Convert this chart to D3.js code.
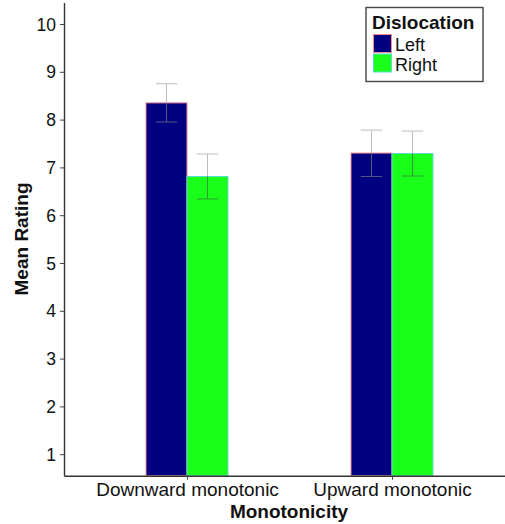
<!DOCTYPE html>
<html><head><meta charset="utf-8">
<script src="https://cdn.jsdelivr.net/npm/d3@7"></script>
<style>body{margin:0;background:#fff}svg{display:block}text{font-family:"Liberation Sans",Arial,sans-serif}</style>
</head><body><svg id="c" width="505" height="524"></svg>
<script>
const categories = ["Downward monotonic", "Upward monotonic"];
const series = ["Left", "Right"];
const means = { Left: [8.35, 7.30], Right: [6.81, 7.29] };
const errLow = { Left: [7.95, 6.81], Right: [6.34, 6.82] };
const errHigh = { Left: [8.75, 7.78], Right: [7.28, 7.76] };
const yTicks = [1, 2, 3, 4, 5, 6, 7, 8, 9, 10];
const fills = { Left: "#000080", Right: "#1aff1a" };
const strokes = { Left: "#f08a90", Right: "#5fdcd0" };

const svg = d3.select("#c");
const L = 64, B = 475.7, T = 2.5;
const unit = 205;
const x = d3.scaleLinear().domain([0.4, 2.6]).range([L, L + 2.2 * unit]);
const y = d3.scaleLinear().domain([0.55, 10.45]).range([B, T]);
const barW = 0.2;

const rows = [];
categories.forEach((c, i) => series.forEach((s, j) => rows.push({
  c, s, i, j, v: means[s][i], lo: errLow[s][i], hi: errHigh[s][i]
})));
function i2x(d){ return d.i + 1 - barW + d.j * barW; }

// bars
svg.selectAll("rect.bar").data(rows).join("rect")
  .attr("class", "bar")
  .attr("x", d => x(i2x(d))).attr("width", x(barW) - x(0))
  .attr("y", d => y(d.v)).attr("height", d => y(0.55) - y(d.v))
  .attr("fill", d => fills[d.s]).attr("stroke", d => strokes[d.s]).attr("stroke-width", 1);

// error bars
const eb = svg.selectAll("g.eb").data(rows).join("g").attr("class", "eb");
const cx = d => x(d.i + 1 - barW / 2 + d.j * barW);
const hw = (x(barW) - x(0)) / 2;
const inner = d => d.s === "Left" ? "#555580" : "#339933";
eb.append("line").attr("x1", cx).attr("x2", cx).attr("y1", d => y(d.hi)).attr("y2", d => y(d.v))
  .attr("stroke", "#bdbdbd").attr("stroke-width", 1);
eb.append("line").attr("x1", cx).attr("x2", cx).attr("y1", d => y(d.v)).attr("y2", d => y(d.lo))
  .attr("stroke", inner).attr("stroke-width", 1);
eb.append("line").attr("x1", d => cx(d) - hw / 2 - 0.5).attr("x2", d => cx(d) + hw / 2 + 0.5)
  .attr("y1", d => y(d.hi)).attr("y2", d => y(d.hi)).attr("stroke", "#bdbdbd");
eb.append("line").attr("x1", d => cx(d) - hw / 2 - 0.5).attr("x2", d => cx(d) + hw / 2 + 0.5)
  .attr("y1", d => y(d.lo)).attr("y2", d => y(d.lo))
  .attr("stroke", d => d.lo < d.v ? inner(d) : "#bdbdbd");

// y axis
const yAx = svg.append("g").attr("transform", `translate(${L},0)`)
  .call(d3.axisLeft(y).tickValues(yTicks).tickSize(4).tickPadding(4).tickSizeOuter(0));
yAx.select(".domain").attr("stroke", "#333").attr("stroke-width", 1.4);
yAx.selectAll(".tick line").attr("stroke", "#444");
yAx.selectAll("text").attr("font-size", 17.5).attr("fill", "#111").attr("dy", "0.35em");

// x axis
const xAx = svg.append("g").attr("transform", `translate(0,${B})`)
  .call(d3.axisBottom(x).tickValues([1, 2]).tickFormat(d => categories[d - 1]).tickSize(4).tickPadding(3).tickSizeOuter(0));
xAx.select(".domain").attr("stroke", "#333").attr("stroke-width", 1.4);
xAx.selectAll(".tick line").attr("stroke", "#444");
xAx.selectAll("text").attr("font-size", 19).attr("fill", "#111");

// titles
svg.append("text").attr("x", 289).attr("y", 518).attr("text-anchor", "middle")
  .attr("font-size", 19).attr("font-weight", "bold").attr("fill", "#111").text("Monotonicity");
svg.append("text").attr("transform", "translate(28,239) rotate(-90)").attr("text-anchor", "middle")
  .attr("font-size", 19).attr("font-weight", "bold").attr("fill", "#111").text("Mean Rating");

// legend
const lg = svg.append("g");
lg.append("rect").attr("x", 366).attr("y", 7.5).attr("width", 117).attr("height", 74)
  .attr("fill", "#fff").attr("stroke", "#444").attr("stroke-width", 1.4);
lg.append("text").attr("x", 372).attr("y", 28.5).attr("font-size", 19).attr("font-weight", "bold").attr("fill", "#111").text("Dislocation");
series.forEach((s, k) => {
  lg.append("rect").attr("x", 373.5).attr("y", 34.5 + k * 19.5).attr("width", 18).attr("height", 18)
    .attr("fill", fills[s]).attr("stroke", strokes[s]).attr("stroke-width", 1);
  lg.append("text").attr("x", 395).attr("y", 51 + k * 19.5).attr("font-size", 18).attr("fill", "#111").text(s);
});
</script></body></html>
